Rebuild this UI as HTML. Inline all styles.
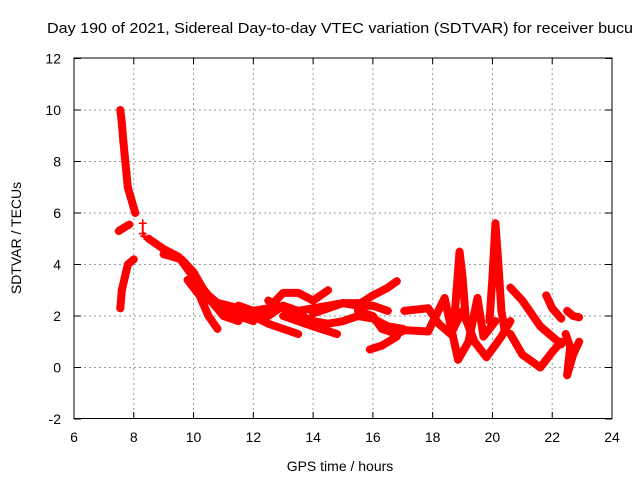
<!DOCTYPE html>
<html><head><meta charset="utf-8"><style>
html,body{margin:0;padding:0;background:#fff;}
svg{display:block;font-family:"Liberation Sans",sans-serif;}
</style></head><body>
<svg id="chart" width="640" height="480" viewBox="0 0 640 480">
<text x="47" y="33" font-size="15" textLength="586" lengthAdjust="spacingAndGlyphs">Day 190 of 2021, Sidereal Day-to-day VTEC variation (SDTVAR) for receiver bucu</text>
<text transform="translate(21,238) rotate(-90)" font-size="14" text-anchor="middle">SDTVAR / TECUs</text>
<text x="340" y="471" font-size="14" text-anchor="middle">GPS time / hours</text>
<g id="grid"></g><g id="ticks"></g><g id="marks"></g>
<rect x="74" y="58" width="538" height="360.5" fill="none" stroke="#000" stroke-width="1"/>
</svg>
<script>
const xTicks=[6,8,10,12,14,16,18,20,22,24];
const yTicks=[-2,0,2,4,6,8,10,12];
const trackA=[[7.55,10.0],[7.6,9.5],[7.65,8.8],[7.7,8.2],[7.75,7.6],[7.8,7.0],[7.9,6.6],[8.0,6.2],[8.05,6.0]];
const trackB=[[7.5,5.3],[7.7,5.45],[7.85,5.55]];
const trackC=[[7.55,2.3],[7.6,3.0],[7.7,3.5],[7.8,4.0],[8.0,4.2]];
const trackD=[[8.3,5.6],[8.3,5.2],[8.35,5.1]];
const trackE=[[8.5,5.0],[9.0,4.6],[9.5,4.3],[10.0,3.5],[10.5,2.8],[11,2.3],[11.5,2.0],[12,1.8]];
const trackF=[[9.0,4.4],[9.6,4.2],[10.0,3.7],[10.5,2.7],[11,2.0],[11.5,1.8]];
const trackG=[[9.8,3.4],[10.2,2.8],[10.5,2.0],[10.8,1.5]];
const trackH=[[10.5,2.6],[11.5,2.3],[12.5,1.7],[13.5,1.3]];
const trackI=[[12,2.2],[12.5,2.3],[13,2.9],[13.5,2.9],[14,2.6],[14.5,3.0]];
const trackJ=[[11.5,2.4],[12.5,2.0],[13,2.4],[13.5,2.2],[14,2.3],[15,2.5],[15.5,2.4],[16,2.4],[16.5,2.2]];
const trackK=[[12.5,2.6],[13,2.3],[14,1.8],[14.5,1.7],[15,1.8],[15.5,2.0],[16,1.9],[16.5,1.6],[17,1.5]];
const trackL=[[13,2.0],[14,1.6],[14.8,1.3]];
const trackM=[[14,2.1],[15,2.5],[15.6,2.5],[16,2.8],[16.5,3.1],[16.8,3.35]];
const trackN=[[15.9,0.7],[16.3,0.85],[16.8,1.2]];
const trackO=[[15.5,2.2],[16,2.0],[16.3,1.5],[16.8,1.3],[17.05,1.45],[17.85,1.4],[18.4,2.7],[18.85,0.3],[19.2,1.0],[19.5,2.7],[19.7,1.2],[20.1,1.8]];
const trackP=[[17.05,2.2],[17.85,2.3],[18.2,1.7],[18.6,1.3],[19.0,2.2],[19.4,1.0],[19.8,0.4],[20.3,1.2],[20.6,1.8]];
const trackQ=[[18.7,1.5],[18.8,3.0],[18.9,4.5],[19.0,3.5],[19.1,2.0]];
const trackR=[[19.9,1.8],[20.0,3.5],[20.1,5.6],[20.2,4.0],[20.3,2.2],[20.4,1.5]];
const trackS=[[20.6,3.1],[21.0,2.6],[21.6,1.6],[22.3,0.9]];
const trackT=[[20.6,1.3],[21.0,0.5],[21.6,0.0],[22.0,0.6],[22.3,1.0]];
const trackU=[[21.8,2.8],[22.0,2.3],[22.3,1.9]];
const trackV=[[22.5,2.2],[22.7,2.0],[22.9,1.95]];
const trackW=[[22.45,1.3],[22.6,0.8],[22.5,-0.3],[22.7,0.5],[22.9,1.0]];
const tracks=[trackA,trackB,trackC,trackD,trackE,trackF,trackG,trackH,trackI,trackJ,trackK,trackL,trackM,trackN,trackO,trackP,trackQ,trackR,trackS,trackT,trackU,trackV,trackW];
const NS='http://www.w3.org/2000/svg';
function xs(h){return 74+(h-6)*(538/18);}
function ys(v){return 367.5-v*25.75;}
const grid=document.getElementById('grid'),ticks=document.getElementById('ticks'),marks=document.getElementById('marks');
function mk(tag,attrs,parent){const e=document.createElementNS(NS,tag);for(const k in attrs)e.setAttribute(k,attrs[k]);parent.appendChild(e);return e;}
xTicks.forEach(t=>{const x=xs(t);
 if(t>6&&t<24){const g=mk('line',{x1:x,x2:x,y1:58,y2:418.5,stroke:'#999','stroke-dasharray':'2,3'},grid);
 
 }
 mk('line',{x1:x,x2:x,y1:418.5,y2:412,stroke:'#000'},ticks);
 mk('line',{x1:x,x2:x,y1:58,y2:64,stroke:'#000'},ticks);
 const tx=mk('text',{x:x,y:442,'font-size':14,'text-anchor':'middle'},ticks);tx.textContent=t;
 
 
});
yTicks.forEach(t=>{const y=ys(t);
 if(t>-2&&t<12){const g=mk('line',{x1:74,x2:612,y1:y,y2:y,stroke:'#999','stroke-dasharray':'2,3'},grid);
 
 }
 mk('line',{x1:74,x2:81,y1:y,y2:y,stroke:'#000'},ticks);
 mk('line',{x1:605,x2:612,y1:y,y2:y,stroke:'#000'},ticks);
 const tx=mk('text',{x:61,y:y+5,'font-size':14,'text-anchor':'end'},ticks);tx.textContent=t;
 
 
});
tracks.forEach(tr=>{
 const pl=mk('polyline',{points:tr.map(p=>xs(p[0])+','+ys(p[1])).join(' '),fill:'none',stroke:'#f00','stroke-width':(tr===trackD?2:8),'stroke-linejoin':'round','stroke-linecap':'round'},marks);
 
 
 tr.forEach(p=>{const x=xs(p[0]),y=ys(p[1]);
  const m=mk('path',{d:`M${x-4},${y}H${x+4}M${x},${y-4}V${y+4}`,stroke:'#f00','stroke-width':1.5},marks);
  
  
 });
});
</script>
</body></html>
